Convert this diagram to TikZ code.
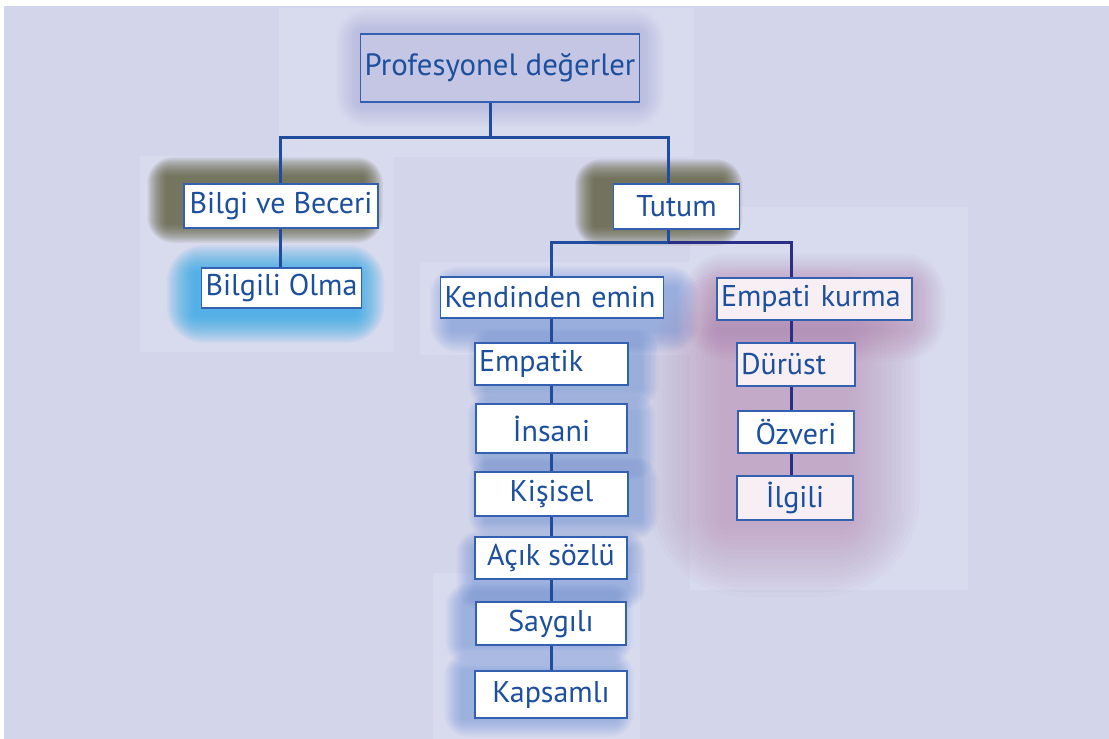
\documentclass[tikz,border=0pt]{standalone}
\usepackage{fontspec}
\setmainfont{PT Sans}
\usetikzlibrary{calc}

\pgfdeclarelayer{bg}
\pgfsetlayers{bg,main}

\definecolor{ground}{HTML}{D3D5EA}
\definecolor{panel}{HTML}{D8DAEE}
\definecolor{ink}{HTML}{1D4F9F}
\definecolor{rim}{HTML}{3360B0}
\definecolor{stem}{HTML}{1F4C9C}
\definecolor{navy}{HTML}{2A2F85}
\definecolor{profcol}{HTML}{C4C6E4}
\definecolor{pinkish}{HTML}{F7EFF4}
\definecolor{olive}{HTML}{55552F}
\definecolor{cyanglow}{HTML}{1AA2E6}
\definecolor{blueglow}{HTML}{5F88D2}
\definecolor{mauve}{HTML}{B07AA6}
\definecolor{lilac}{HTML}{A2A5D8}

% soft glow behind a box: corners, colour, spread, opacity, dx, dy (pt)
\newcommand\glow[7]{%
  \foreach \k in {1,...,16}{%
    \pgfmathsetmacro\gs{\k*#4/16}%
    \pgfmathsetmacro\gxa{#6-\gs}\pgfmathsetmacro\gya{#7-\gs}%
    \pgfmathsetmacro\gxb{#6+\gs}\pgfmathsetmacro\gyb{#7+\gs}%
    \fill[#3, opacity=#5, rounded corners=1.3*\gs pt]
      ([shift={(\gxa pt,\gya pt)}]#1) rectangle ([shift={(\gxb pt,\gyb pt)}]#2);
  }%
}

\begin{document}
\begin{tikzpicture}[x=0.5pt, y=-0.5pt,
    box/.style={draw=rim, line width=0.75pt, fill=white, text=ink, inner xsep=2pt, inner ysep=0pt,
                font=\fontsize{15}{18}\selectfont},
    tree/.style={draw=stem, line width=1.5pt}]

    \useasboundingbox (0,0) rectangle (1109,739);

    \node[box, minimum width=137pt, minimum height=34pt, fill=profcol, font=\fontsize{15.4}{19}\selectfont] (prof) at (500,68) {Profesyonel değerler};

    \node[box, minimum width=97pt, minimum height=22pt] (bilgi) at (281,206) {Bilgi ve Beceri};
    \node[box, minimum width=77.5pt, minimum height=20pt] (bilgili) at (281.5,288) {Bilgili Olma};
    \node[box, minimum width=63pt, minimum height=22.5pt] (tutum) at (676.5,206.5) {Tutum};

    \node[box, align=left, text width=107.5pt, minimum height=20.5pt] (kendi) at (552,297.5) {Kendinden emin};
    \node[box, align=left, text width=93.5pt, minimum height=21pt, fill=pinkish] (empati) at (814.5,299) {Empati kurma};

    \node[box, align=left, text width=72.5pt, minimum height=21pt] (empatik) at (551.5,364) {Empatik};
    \node[box, minimum width=75.5pt, minimum height=24.5pt] (insani) at (551.5,428.5) {İnsani};
    \node[box, minimum width=76.5pt, minimum height=22pt] (kisisel) at (551.5,494) {Kişisel};
    \node[box, minimum width=76pt, minimum height=21pt] (acik) at (551,558) {Açık sözlü};
    \node[box, minimum width=75pt, minimum height=21.5pt] (saygili) at (551,623.5) {Saygılı};
    \node[box, minimum width=76pt, minimum height=23.5pt] (kapsamli) at (551,694.5) {Kapsamlı};

    \node[box, align=left, text width=55pt, minimum height=21.5pt, fill=pinkish] (durust) at (796,364.5) {Dürüst};
    \node[box, minimum width=58pt, minimum height=21pt] (ozveri) at (796,432) {Özveri};
    \node[box, minimum width=58pt, minimum height=22pt, fill=pinkish] (ilgili) at (795,498) {İlgili};

    % branch points
    \coordinate (k0) at (490,137);
    \coordinate (kl) at (280,137);
    \coordinate (kr) at (668,137);
    \coordinate (t0) at (668,242);
    \coordinate (tl) at (551,242);
    \coordinate (tr) at (791,242);

    \draw[tree] (prof.south -| k0) -- (k0);
    \draw[tree] (bilgi.north -| kl) -- (kl) -- (kr) -- (tutum.north -| kr);
    \draw[tree] (bilgi.south -| kl) -- (bilgili.north -| kl);
    \draw[tree] (tutum.south -| t0) -- (t0);
    \draw[tree] (kendi.north -| tl) -- (tl) -- (t0);
    \draw[tree, draw=navy] (t0) -- (tr) -- (empati.north -| tr);

    \foreach \a/\b in {kendi/empatik, empatik/insani, insani/kisisel, kisisel/acik, acik/saygili, saygili/kapsamli}
        \draw[tree] (\a.south -| tl) -- (\b.north -| tl);
    \foreach \a/\b in {empati/durust, durust/ozveri, ozveri/ilgili}
        \draw[tree, draw=navy] (\a.south -| tr) -- (\b.north -| tr);

    \begin{pgfonlayer}{bg}
        \fill[white] (0,0) rectangle (1109,739);
        \fill[ground] (4,6) rectangle (1109,739);
        \fill[panel] (279,8) rectangle (694,157);
        \fill[panel] (140,156) rectangle (394,352);
        \fill[panel] (420,262) rectangle (700,355);
        \fill[panel] (690,207) rectangle (968,590);
        \fill[panel] (433,573) rectangle (640,739);

        \glow{prof.south west}{prof.north east}{lilac}{12}{0.035}{0}{0}
        \glow{bilgi.south west}{bilgi.north east}{olive}{10}{0.08}{-8}{3}
        \glow{tutum.south west}{tutum.north east}{olive}{10}{0.08}{-9}{2}
        \glow{bilgili.south west}{bilgili.north east}{cyanglow}{14}{0.065}{-3}{-3}
        \glow{kendi.south west}{kendi.north east}{blueglow}{11}{0.04}{6}{-6}
        \glow{empatik.south west}{empatik.north east}{blueglow}{9}{0.035}{6}{-2}
        \glow{insani.south west}{insani.north east}{blueglow}{9}{0.035}{5}{-4}
        \glow{kisisel.south west}{kisisel.north east}{blueglow}{9}{0.035}{6}{-2}
        \glow{acik.south west}{acik.north east}{blueglow}{9}{0.035}{0}{-6}
        \glow{saygili.south west}{saygili.north east}{blueglow}{9}{0.035}{-6}{0}
        \glow{kapsamli.south west}{kapsamli.north east}{blueglow}{9}{0.035}{-6}{0}
        \glow{ilgili.south west}{durust.north east}{mauve}{38}{0.036}{-6}{0}
        \glow{empati.south west}{empati.north east}{mauve}{16}{0.03}{0}{-4}
    \end{pgfonlayer}

\end{tikzpicture}
\end{document}
